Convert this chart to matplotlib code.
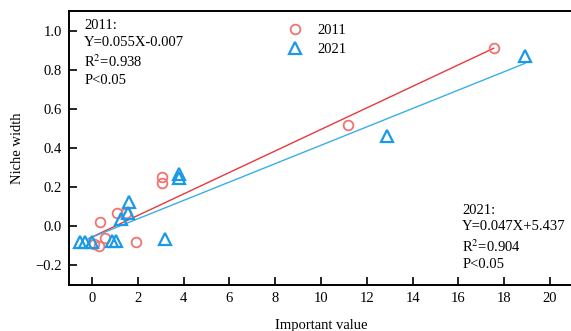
import numpy as np
import matplotlib.pyplot as plt

plt.rcParams["font.family"] = ["Liberation Serif", "DejaVu Serif"]
plt.rcParams["mathtext.fontset"] = "stix"

# 2011 survey
x_2011 = [17.54, 11.2, 3.05, 3.08, 1.09, 0.36, 0.58, 1.92, 0.29, 0.07, 1.5]
y_2011 = [0.911, 0.518, 0.250, 0.222, 0.070, 0.020, -0.060, -0.080, -0.100, -0.090, 0.07]

# 2021 survey
x_2021 = [18.92, 12.9, 3.78, 3.78, 1.60, 1.56, 1.28, 3.17, 0.87, 1.06, -0.51, -0.29, 0.0]
y_2021 = [0.868, 0.460, 0.267, 0.245, 0.125, 0.068, 0.036, -0.063, -0.077, -0.077, -0.080, -0.080, -0.080]

# fitted lines: slope, intercept, x range
fit_2011 = (0.055, -0.055, -0.15, 17.54)
fit_2021 = (0.047, -0.056, -0.15, 18.9)

red_pt = "#F27272"
red_ln = "#E8383D"
blue_pt = "#1A9AE6"
blue_ln = "#3AAEE8"

fig = plt.figure(figsize=(5.71, 3.31), dpi=100)
ax = fig.add_axes([69 / 571, 46 / 331, 504 / 571, 274 / 331])

for (k, b, x0, x1), c in [(fit_2011, red_ln), (fit_2021, blue_ln)]:
    xs = np.array([x0, x1])
    ax.plot(xs, k * xs + b, color=c, lw=1.0, zorder=2)

ax.plot(x_2011, y_2011, "o", ms=7, mfc="none", mec=red_pt, mew=1.3,
        label="2011", zorder=3)
ax.plot(x_2021, y_2021, "^", ms=8, mfc="none", mec=blue_pt, mew=1.6,
        label="2021", zorder=3)

ax.set_xlim(-1, 21)
ax.set_ylim(-0.3, 1.1)
ax.set_xticks(range(0, 21, 2))
ax.set_yticks([-0.2, 0.0, 0.2, 0.4, 0.6, 0.8, 1.0])
ax.set_yticklabels(["\u22120.2", "0.0", "0.2", "0.4", "0.6", "0.8", "1.0"])
ax.tick_params(direction="in", length=6, width=1.2, labelsize=10.5,
               pad=5, colors="black")
for s in ["left", "bottom", "top"]:
    ax.spines[s].set_linewidth(1.4)
ax.spines["right"].set_visible(False)

ax.set_xlabel("Important value", fontsize=10.5, labelpad=10)
ax.set_ylabel("Niche width", fontsize=10.5, labelpad=8)

ax.legend(loc="upper left", bbox_to_anchor=(0.4, 1.0), frameon=False,
          fontsize=10.5, handletextpad=0.8, labelspacing=0.4,
          handlelength=1.5)

ax.text(0.03, 0.97, "2011:\nY=0.055X-0.007\nR$^2$=0.938\nP<0.05",
        transform=ax.transAxes, ha="left", va="top", fontsize=10.5,
        linespacing=1.35)
ax.text(0.78, 0.05, "2021:\nY=0.047X+5.437\nR$^2$=0.904\nP<0.05",
        transform=ax.transAxes, ha="left", va="bottom", fontsize=10.5,
        linespacing=1.35)

fig.savefig("out.png", dpi=100)
